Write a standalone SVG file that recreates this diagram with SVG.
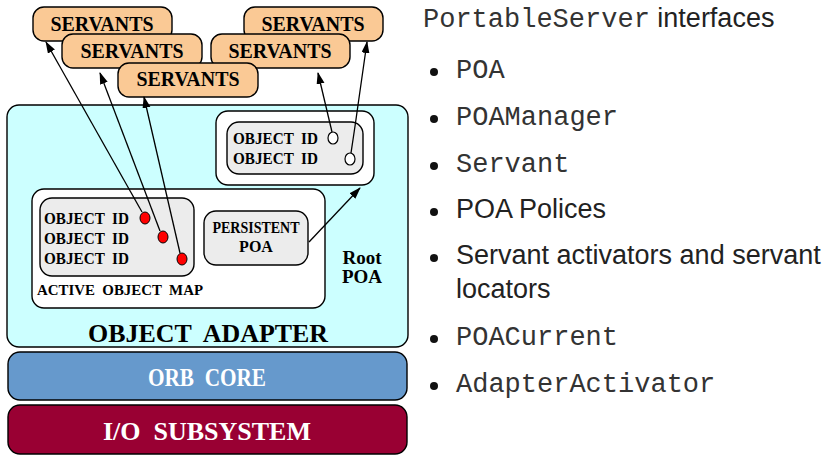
<svg xmlns="http://www.w3.org/2000/svg" width="831" height="457" viewBox="0 0 831 457">
<style>
.bx{stroke:#000;stroke-width:1.4}
.serv{fill:#fac995}
.st{font-family:"Liberation Serif","Times New Roman",serif;font-weight:bold;fill:#000;text-anchor:middle}
.sm{font-family:"Liberation Serif","Times New Roman",serif;font-weight:bold;fill:#000;font-size:16px}
.code{font-family:"Liberation Mono","Courier New",monospace;font-size:27px;fill:#333}
.sans{font-family:"Liberation Sans",Arial,sans-serif;font-size:27px;fill:#222}
.ln{stroke:#000;stroke-width:1.3;fill:none;marker-end:url(#ah)}
</style>
<defs>
<marker id="ah" markerWidth="12" markerHeight="10" refX="11" refY="4" orient="auto" markerUnits="userSpaceOnUse">
<path d="M0,0 L12,4 L0,8 Z" fill="#000"/>
</marker>
</defs>
<rect width="831" height="457" fill="#fff"/>

<g id="io-subsystem">
<rect class="bx" x="8" y="405" width="399" height="49" rx="12" fill="#990033"/>
<text class="st" x="207" y="440" font-size="26" style="fill:#fff" xml:space="preserve" textLength="208" lengthAdjust="spacingAndGlyphs">I/O  SUBSYSTEM</text>
</g>
<g id="orb-core">
<rect class="bx" x="8" y="352" width="399" height="48" rx="12" fill="#6699cc"/>
<text class="st" x="207" y="386" font-size="25" style="fill:#fff" xml:space="preserve" textLength="118" lengthAdjust="spacingAndGlyphs">ORB  CORE</text>
</g>
<g id="object-adapter">
<rect class="bx" x="7" y="105" width="401" height="242" rx="12" fill="#ccffff"/>
<text class="st" x="208" y="342" font-size="26" xml:space="preserve" textLength="240" lengthAdjust="spacingAndGlyphs">OBJECT  ADAPTER</text>
<text class="st" x="362" y="264" font-size="19">Root</text>
<text class="st" x="362" y="283" font-size="19">POA</text>
</g>
<g id="persistent-poa-area">
<rect class="bx" x="216" y="111" width="158" height="74" rx="12" fill="#fff"/>
<rect class="bx" x="227" y="122" width="136" height="52" rx="12" fill="#ececec"/>
<text class="sm" x="233" y="144" xml:space="preserve" textLength="85" lengthAdjust="spacingAndGlyphs">OBJECT  ID</text>
<text class="sm" x="233" y="164" xml:space="preserve" textLength="85" lengthAdjust="spacingAndGlyphs">OBJECT  ID</text>
<ellipse cx="333" cy="138" rx="5" ry="6" fill="#fff" stroke="#000" stroke-width="1.2"/>
<ellipse cx="350" cy="159" rx="5" ry="6" fill="#fff" stroke="#000" stroke-width="1.2"/>
</g>
<g id="active-object-map">
<rect class="bx" x="32" y="189" width="293" height="119" rx="12" fill="#fff"/>
<rect class="bx" x="40" y="198" width="154" height="78" rx="12" fill="#ececec"/>
<text class="sm" x="44" y="224" xml:space="preserve" textLength="85" lengthAdjust="spacingAndGlyphs">OBJECT  ID</text>
<text class="sm" x="44" y="244" xml:space="preserve" textLength="85" lengthAdjust="spacingAndGlyphs">OBJECT  ID</text>
<text class="sm" x="44" y="264" xml:space="preserve" textLength="85" lengthAdjust="spacingAndGlyphs">OBJECT  ID</text>
<ellipse cx="145" cy="218" rx="5" ry="6" fill="#ff0000" stroke="#000" stroke-width="1"/>
<ellipse cx="163" cy="237" rx="5" ry="6" fill="#ff0000" stroke="#000" stroke-width="1"/>
<ellipse cx="182" cy="259" rx="5" ry="6" fill="#ff0000" stroke="#000" stroke-width="1"/>
<text class="sm" x="37" y="295" style="font-size:15px" xml:space="preserve" textLength="166" lengthAdjust="spacingAndGlyphs">ACTIVE  OBJECT  MAP</text>
</g>
<g id="persistent-poa">
<rect class="bx" x="204" y="211" width="104" height="54" rx="12" fill="#ececec"/>
<text class="st" x="256" y="233" font-size="16" textLength="87" lengthAdjust="spacingAndGlyphs">PERSISTENT</text>
<text class="st" x="256" y="252" font-size="16">POA</text>
</g>

<g id="servants-a"><rect class="bx serv" x="33" y="7" width="139" height="34" rx="11"/><text class="st" x="102" y="31" font-size="21" textLength="103" lengthAdjust="spacingAndGlyphs">SERVANTS</text></g>
<g id="servants-d"><rect class="bx serv" x="244" y="7" width="139" height="34" rx="11"/><text class="st" x="313" y="31" font-size="21" textLength="103" lengthAdjust="spacingAndGlyphs">SERVANTS</text></g>
<g id="servants-b"><rect class="bx serv" x="62" y="34" width="140" height="34" rx="11"/><text class="st" x="132" y="58" font-size="21" textLength="103" lengthAdjust="spacingAndGlyphs">SERVANTS</text></g>
<g id="servants-e"><rect class="bx serv" x="211" y="34" width="139" height="34" rx="11"/><text class="st" x="280" y="58" font-size="21" textLength="103" lengthAdjust="spacingAndGlyphs">SERVANTS</text></g>
<g id="servants-c"><rect class="bx serv" x="118" y="63" width="140" height="34" rx="11"/><text class="st" x="188" y="86" font-size="21" textLength="103" lengthAdjust="spacingAndGlyphs">SERVANTS</text></g>

<g id="connectors">
<line class="ln" x1="142" y1="212" x2="46" y2="42"/>
<line class="ln" x1="160" y1="231" x2="100" y2="73"/>
<line class="ln" x1="180" y1="253" x2="144" y2="97"/>
<line class="ln" x1="332" y1="132" x2="318" y2="73"/>
<path class="ln" d="M351,153 Q356,120 358,105 L367,42"/>
<line class="ln" x1="309" y1="242" x2="360" y2="188"/>
</g>

<g id="interfaces-list">
<text x="423" y="27"><tspan class="code">PortableServer</tspan><tspan class="sans"> interfaces</tspan></text>
<circle cx="434" cy="72" r="4" fill="#111"/>
<text class="code" x="456" y="78">POA</text>
<circle cx="434" cy="119" r="4" fill="#111"/>
<text class="code" x="456" y="125">POAManager</text>
<circle cx="434" cy="166" r="4" fill="#111"/>
<text class="code" x="456" y="172">Servant</text>
<circle cx="434" cy="212" r="4" fill="#111"/>
<text class="sans" x="456" y="218">POA Polices</text>
<circle cx="434" cy="258" r="4" fill="#111"/>
<text class="sans" x="456" y="264">Servant activators and servant</text>
<text class="sans" x="456" y="298">locators</text>
<circle cx="434" cy="339" r="4" fill="#111"/>
<text class="code" x="456" y="345">POACurrent</text>
<circle cx="434" cy="386" r="4" fill="#111"/>
<text class="code" x="456" y="392">AdapterActivator</text>
</g>
</svg>
